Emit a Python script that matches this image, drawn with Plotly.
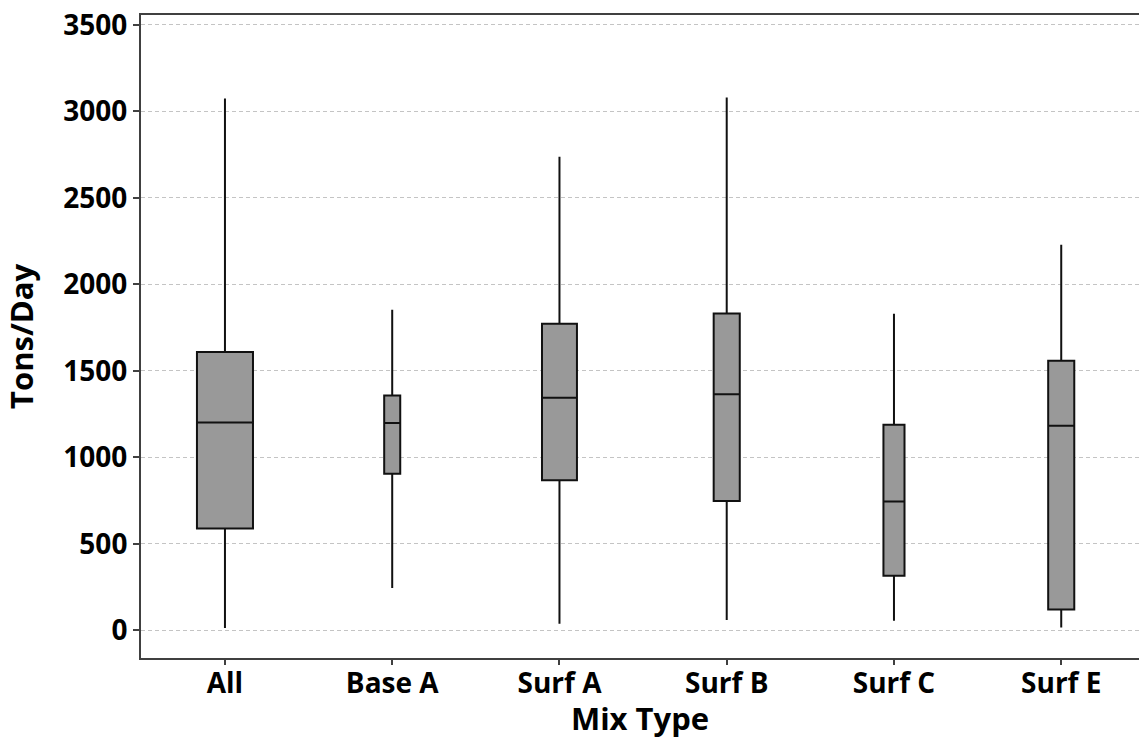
import plotly.graph_objects as go

categories = ["All", "Base A", "Surf A", "Surf B", "Surf C", "Surf E"]
lower_whisker = [14, 245, 38, 59, 56, 17]
q1 = [588, 905, 868, 747, 316, 121]
median = [1202, 1198, 1345, 1364, 745, 1183]
q3 = [1609, 1358, 1772, 1832, 1189, 1558]
upper_whisker = [3074, 1853, 2738, 3080, 1830, 2229]
box_widths = [0.335, 0.096, 0.209, 0.156, 0.126, 0.156]
y_ticks = [0, 500, 1000, 1500, 2000, 2500, 3000, 3500]

FONT = "Open Sans"

fig = go.Figure()
for i, cat in enumerate(categories):
    fig.add_trace(go.Box(
        x=[cat],
        q1=[q1[i]], median=[median[i]], q3=[q3[i]],
        lowerfence=[lower_whisker[i]], upperfence=[upper_whisker[i]],
        width=box_widths[i],
        whiskerwidth=0,
        fillcolor="#999999",
        line=dict(color="#111111", width=2),
        boxpoints=False,
        showlegend=False,
        hoverinfo="skip",
    ))

fig.update_layout(
    width=1139, height=739,
    margin=dict(l=141, r=0, t=15, b=81),
    paper_bgcolor="white", plot_bgcolor="white",
    font=dict(family=FONT, color="black"),
    xaxis=dict(
        type="category", categoryorder="array", categoryarray=categories,
        range=[-0.502, 5.465],
        showline=True, linecolor="#404040", linewidth=2, mirror=True,
        ticks="outside", ticklen=5, tickcolor="#404040", tickwidth=1.5,
        ticklabelstandoff=-6,
        tickfont=dict(family=FONT, size=28, color="black", weight="bold"),
        title=dict(text="<b>Mix Type</b>", font=dict(family=FONT, size=31, color="black"), standoff=0),
        showgrid=False, zeroline=False,
    ),
    yaxis=dict(
        range=[-160, 3557],
        tickvals=y_ticks,
        showline=True, linecolor="#404040", linewidth=2, mirror=False,
        ticks="outside", ticklen=6, tickcolor="#404040", tickwidth=1.5,
        tickfont=dict(family=FONT, size=28, color="black", weight="bold"),
        title=dict(text="<b>Tons/Day</b>", font=dict(family=FONT, size=31, color="black"), standoff=22),
        showgrid=True, gridcolor="#c4c4c4", griddash="4px,3px", gridwidth=1,
        zeroline=False,
    ),
)

fig.write_html("out.html")
